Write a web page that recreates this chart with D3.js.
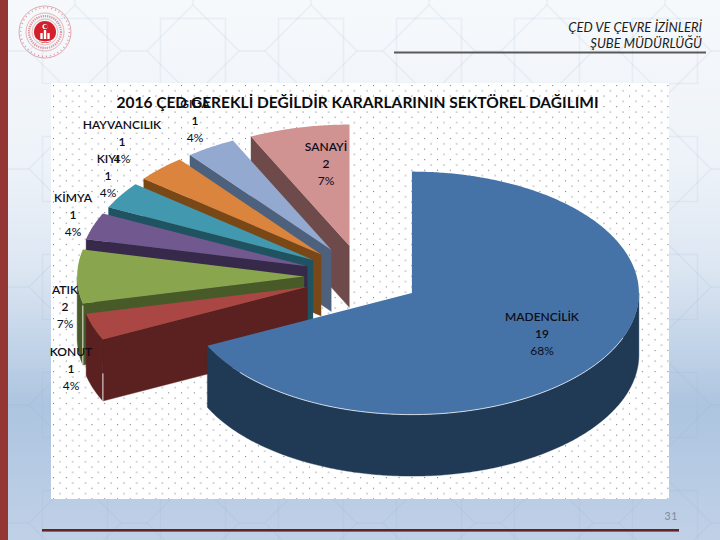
<!DOCTYPE html>
<html>
<head>
<meta charset="utf-8">
<script src="https://cdn.jsdelivr.net/npm/d3@7/dist/d3.min.js"></script>
<style>
html,body{margin:0;padding:0;background:#fff}
svg{display:block}
text{font-family:Lato,"Open Sans",sans-serif}
</style>
</head>
<body>
<svg id="c" width="720" height="540"></svg>
<script>
// Data
const categories = ["MADENCİLİK","KONUT","ATIK","KİMYA","KIYI","HAYVANCILIK","GIDA","SANAYİ"];
const counts = [19,1,2,1,1,1,1,2];
const topColors = ["#4573a7","#aa4644","#89a54e","#71588f","#4198af","#db843d","#93a9cf","#d19392"];
const wallColors = ["#203a56","#5a2120","#475a28","#37294a","#1f5362","#7a4816","#4d607c","#6e4a4a"];
const chartTitle = "2016 ÇED GEREKLİ DEĞİLDİR KARARLARININ SEKTÖREL DAĞILIMI";
const headerLines = ["ÇED VE ÇEVRE İZİNLERİ","ŞUBE MÜDÜRLÜĞÜ"];
const pageNumber = "31";

// Layout (kept apart from the data)
const W = 720, H = 540;
const labelCentres = [[542,316],[71,351],[65,289],[73,197],[108,158],[122,124],[195,103],[326,146]];
const labelLeading = 17;
const explode = 0.257, depth = 61.5;

const svg = d3.select("#c");
const defs = svg.append("defs");

// Page background
const bg = defs.append("linearGradient").attr("id","bg").attr("x1",0).attr("x2",0).attr("y1",0).attr("y2",1);
[[0,"#f6f9fc"],[0.3,"#eef3f9"],[0.5,"#dce6f2"],[0.75,"#adc5e0"],[1,"#c0d1e7"]]
  .forEach(s=>bg.append("stop").attr("offset",s[0]).attr("stop-color",s[1]));
svg.append("rect").attr("width",W).attr("height",H).attr("fill","url(#bg)");

// Faint star lattice of the slide template
const tile = 118;
const star = defs.append("pattern").attr("id","star").attr("patternUnits","userSpaceOnUse")
  .attr("x",16).attr("y",-8).attr("width",tile).attr("height",tile);
const c0 = tile/2, rad = 46;
const poly = k => d3.range(4).map(i=>{
  const a = k + i*Math.PI/2;
  return [c0+rad*Math.cos(a), c0+rad*Math.sin(a)].join(",");
}).join(" ");
[0, Math.PI/4].forEach(k=>star.append("polygon").attr("points",poly(k))
  .attr("fill","none").attr("stroke","#8fa9c6").attr("stroke-opacity",0.13).attr("stroke-width",1.6));
[[0,c0,c0-rad,c0],[tile,c0,c0+rad,c0],[c0,0,c0,c0-rad],[c0,tile,c0,c0+rad]]
  .forEach(l=>star.append("line").attr("x1",l[0]).attr("y1",l[1]).attr("x2",l[2]).attr("y2",l[3])
  .attr("stroke","#8fa9c6").attr("stroke-opacity",0.13).attr("stroke-width",1.6));
svg.append("rect").attr("x",8).attr("width",W-8).attr("height",H).attr("fill","url(#star)");

// Left bar
svg.append("rect").attr("width",8).attr("height",H).attr("fill","#943634");

// Chart panel, white with a dotted fill
const dots = defs.append("pattern").attr("id","dots").attr("patternUnits","userSpaceOnUse")
  .attr("x",51).attr("y",83).attr("width",12.8).attr("height",10.6);
dots.append("rect").attr("width",12.8).attr("height",10.6).attr("fill","#fff");
[[2,2],[8.4,7.3]].forEach(p=>dots.append("rect").attr("x",p[0]).attr("y",p[1])
  .attr("width",1).attr("height",1).attr("fill","#5c6670"));
svg.append("rect").attr("x",51).attr("y",83).attr("width",618).attr("height",416).attr("fill","url(#dots)");

// Pie, drawn as an exploded 3-D pie
const slices = d3.pie().sort(null).value(d=>d)(counts);
const xS = d3.scaleLinear().domain([-1,1]).range([135.5,589.5]);
const yS = d3.scaleLinear().domain([-1,1]).range([398,155]);
const line = d3.line();
const offset = s => { const m=(s.startAngle+s.endAngle)/2; return [explode*Math.sin(m), explode*Math.cos(m)]; };
const P = (s,a,r=1,dz=0) => { const o=offset(s); return [xS(o[0]+r*Math.sin(a)), yS(o[1]+r*Math.cos(a))+dz]; };
const arcAngles = (a,b) => { const n=Math.max(2,Math.ceil((b-a)/0.01)); return d3.range(n+1).map(i=>a+(b-a)*i/n); };

const pieG = svg.append("g");
// Painter's order: back slices first, the big front slice last
const order = d3.range(slices.length).slice(1).reverse().concat([0]);
order.forEach(i=>{
  const s = slices[i], g = pieG.append("g");
  // visible cut face
  if (Math.sin(s.startAngle) < -1e-6) {
    const apex = P(s,0,0), c = P(s,s.startAngle);
    g.append("path").attr("d",line([apex,c,[c[0],c[1]+depth],[apex[0],apex[1]+depth]]))
      .attr("fill",wallColors[i]).attr("stroke",wallColors[i]).attr("stroke-width",0.4);
  }
  // outer wall: only where the rim faces the viewer
  const a0 = Math.max(s.startAngle,Math.PI/2), a1 = Math.min(s.endAngle,3*Math.PI/2);
  if (a1 > a0) {
    const rim = arcAngles(a0,a1);
    const pts = rim.map(a=>P(s,a)).concat(rim.slice().reverse().map(a=>P(s,a,1,depth)));
    g.append("path").attr("d",line(pts)+"Z").attr("fill",wallColors[i]).attr("stroke",wallColors[i]).attr("stroke-width",0.4);
  }
  // top
  const top = [P(s,0,0)].concat(arcAngles(s.startAngle,s.endAngle).map(a=>P(s,a)));
  g.append("path").attr("d",line(top)+"Z").attr("fill",topColors[i]);
  // light catches
  if (i===0) {
    g.append("path").attr("d",line(arcAngles(1.95,4.0).map(a=>P(s,a))))
      .attr("fill","none").attr("stroke","#fff").attr("stroke-width",0.9).attr("stroke-opacity",0.85);
    g.append("path").attr("d",line(arcAngles(2.0,3.0).map(a=>P(s,a,1,depth+0.6))))
      .attr("fill","none").attr("stroke","#fff").attr("stroke-width",0.7).attr("stroke-opacity",0.5);
  }
  if (i===1||i===2) {
    const c = P(s,s.startAngle);
    g.append("line").attr("x1",c[0]).attr("x2",c[0])
      .attr("y1",c[1]+(i===1?depth*0.55:2)).attr("y2",c[1]+depth)
      .attr("stroke","#fff").attr("stroke-width",0.9);
  }
});

// Title
svg.append("text").attr("x",357.5).attr("y",107.5).attr("text-anchor","middle")
  .attr("font-size",15.5).attr("font-weight",700).attr("fill","#0c0c0c").text(chartTitle);

// Data labels
const total = d3.sum(counts);
const labG = svg.append("g").attr("text-anchor","middle").attr("font-size",12).attr("fill","#0d0d1a");
categories.forEach((name,i)=>{
  const [x,y] = labelCentres[i];
  const t = labG.append("text");
  [name,String(counts[i]),Math.round(counts[i]/total*100)+"%"].forEach((row,k)=>{
    t.append("tspan").attr("x",x).attr("y",y+k*labelLeading+5)
      .attr("font-weight",k===2?400:600).text(row);
  });
});

// Header
const head = svg.append("g").attr("text-anchor","end").attr("font-size",13)
  .attr("font-style","italic").attr("fill","#1c1c1c");
headerLines.forEach((t,i)=>head.append("text").attr("x",702).attr("y",32+i*16).text(t));
svg.append("rect").attr("x",394).attr("y",51.5).attr("width",312).attr("height",2).attr("fill","#595959");

// Footer
svg.append("rect").attr("x",42).attr("y",529).attr("width",637).attr("height",2.6).attr("fill","#632523");
svg.append("text").attr("x",678).attr("y",520).attr("text-anchor","end").attr("font-size",10.5)
  .attr("letter-spacing",0.6).attr("fill","#7d8a9c").text(pageNumber);

// Emblem
const em = svg.append("g").attr("transform","translate(45,32)").attr("fill","none").attr("stroke","#c9303a");
[[26,0.8,null],[24.3,1.4,"1 3"],[19,0.7,null],[16,2.2,"1.2 1"],[13,0.6,null]].forEach(r=>
  em.append("circle").attr("r",r[0]).attr("stroke-width",r[1]).attr("stroke-dasharray",r[2]).attr("stroke-opacity",0.5));
em.append("circle").attr("r",11).attr("fill","#d3202b").attr("stroke","none");
em.append("path").attr("d","M-11,6 Q0,14 11,6").attr("stroke","#fff").attr("stroke-width",1);
[-3.5,0,3.5].forEach((x,i)=>em.append("rect").attr("x",x-1.2).attr("y",[1,-2,1][i]).attr("width",2.4).attr("height",[6,9,6][i])
  .attr("fill","#fff").attr("stroke","none"));
em.append("circle").attr("cy",-5.5).attr("r",2.6).attr("fill","#fff").attr("stroke","none");
em.append("circle").attr("cx",0.9).attr("cy",-5.5).attr("r",2).attr("fill","#d3202b").attr("stroke","none");
</script>
</body>
</html>
